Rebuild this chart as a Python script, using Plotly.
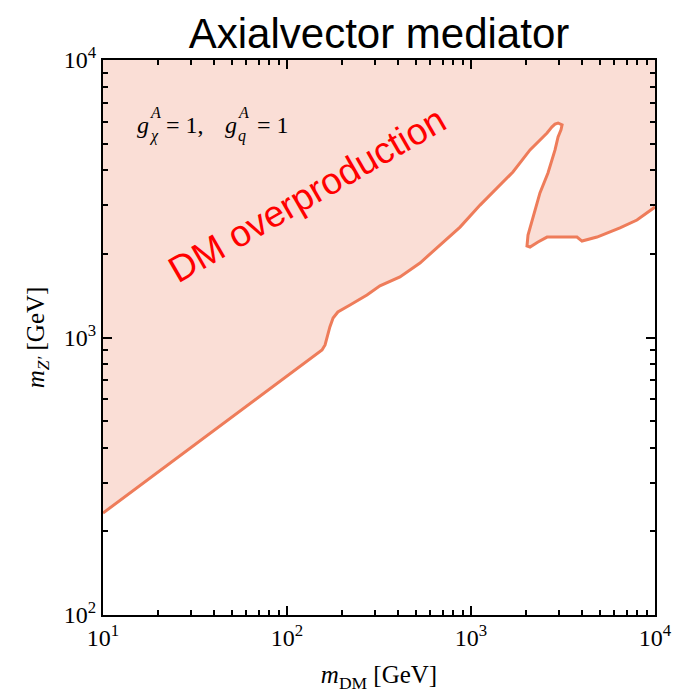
import plotly.graph_objects as go

# Relic-density boundary: m_Z' versus m_DM (GeV), traced left to right
m_dm = [10, 155, 161, 171, 178, 189, 220, 272, 320, 411, 528, 679, 872, 1120,
        1384, 1690, 2093, 2590, 2756, 2862, 2973, 3126, 3084, 2973, 2862, 2620,
        2370, 2173, 2041, 2015, 2093, 2313, 2590, 3767, 4010, 4840, 6452, 7980, 10000]
m_zp = [233, 902, 940, 1092, 1175, 1236, 1309, 1422, 1535, 1653, 1855, 2152, 2500, 3000,
        3461, 3947, 4743, 5458, 5741, 5878, 5929, 5834, 5600, 5284, 4743, 3917,
        3319, 2717, 2338, 2136, 2119, 2208, 2301, 2301, 2226, 2301, 2483, 2651, 2951]

x_range = [10, 10000]
y_range = [100, 10000]

major_vals = [10, 100, 1000, 10000]
x_tick_text = ["10<sup>1</sup>", "10<sup>2</sup>", "10<sup>3</sup>", "10<sup>4</sup>"]
y_major_vals = [100, 1000, 10000]
y_tick_text = ["10<sup>2</sup>", "10<sup>3</sup>", "10<sup>4</sup>"]

def minor_ticks(lo, hi):
    vals = []
    d = lo
    while d < hi:
        vals += [k * d for k in range(2, 10)]
        d *= 10
    return vals

fill_color = "rgb(250,222,214)"
line_color = "rgb(238,124,90)"

W, H = 673, 694
M_L, M_R, M_T, M_B = 103, 18, 60, 79
PW, PH = W - M_L - M_R, H - M_T - M_B

def px_to_paper(px, py):
    return (px - M_L) / PW, 1 - (py - M_T) / PH

fig = go.Figure()

# Shaded excluded region: above the boundary up to the top of the frame
poly_x = m_dm + [x_range[1], x_range[0]]
poly_y = m_zp + [y_range[1], y_range[1]]
fig.add_trace(go.Scatter(x=poly_x, y=poly_y, mode="lines", fill="toself",
                         fillcolor=fill_color, line=dict(width=0),
                         hoverinfo="skip", showlegend=False))
fig.add_trace(go.Scatter(x=m_dm, y=m_zp, mode="lines",
                         line=dict(color=line_color, width=3),
                         showlegend=False))

serif = "Liberation Serif, Times New Roman, serif"
sans = "Liberation Sans, Arial, sans-serif"

axis_common = dict(
    type="log", showgrid=False, zeroline=False, automargin=False,
    showline=True, linecolor="black", linewidth=2, mirror="allticks",
    ticks="inside", ticklen=9, tickwidth=2, tickcolor="black",
    tickmode="array",
    tickfont=dict(family=serif, size=24, color="black"),
)

fig.update_xaxes(
    **axis_common,
    range=[1, 4],
    tickvals=major_vals, ticktext=x_tick_text,
    minor=dict(tickmode="array", tickvals=minor_ticks(10, 10000),
               ticks="inside", ticklen=5, tickwidth=2, tickcolor="black"),
    title=dict(text="<i>m</i><sub>DM</sub> [GeV]",
               font=dict(family=serif, size=25, color="black"), standoff=16),
)
fig.update_yaxes(
    **axis_common,
    range=[2, 4],
    tickvals=y_major_vals, ticktext=y_tick_text,
    minor=dict(tickmode="array", tickvals=minor_ticks(100, 10000),
               ticks="inside", ticklen=5, tickwidth=2, tickcolor="black"),
    title=dict(text="<i>m</i><sub><i>Z′</i></sub> [GeV]",
               font=dict(family=serif, size=25, color="black"), standoff=12),
)

fig.add_annotation(text="DM overproduction", xref="paper", yref="paper",
                   x=0.371, y=0.757, xanchor="center", yanchor="middle",
                   textangle=-30, showarrow=False,
                   font=dict(family=sans, size=37, color="red"))

# Coupling label, g with stacked super/subscripts
coupling_parts = [
    ("<i>g</i>", 136, 125, 24),
    ("<i>A</i>", 149, 112, 16),
    ("<i>χ</i>", 148, 136, 16),
    ("= 1,", 165, 125, 24),
    ("<i>g</i>", 224, 125, 24),
    ("<i>A</i>", 237, 112, 16),
    ("<i>q</i>", 237, 136, 16),
    ("= 1", 256, 125, 24),
]
for txt, px, py, fs in coupling_parts:
    ax, ay = px_to_paper(px, py)
    fig.add_annotation(text=txt, xref="paper", yref="paper", x=ax, y=ay,
                       xanchor="left", yanchor="middle", showarrow=False,
                       borderpad=0, font=dict(family=serif, size=fs, color="black"))

fig.update_layout(
    width=W, height=H,
    margin=dict(l=M_L, r=M_R, t=M_T, b=M_B),
    paper_bgcolor="white", plot_bgcolor="white",
    title=dict(text="Axialvector mediator", x=(M_L + PW / 2) / W, xanchor="center",
               y=1 - 33 / H, yanchor="middle",
               font=dict(family=sans, size=42, color="black")),
)

fig.write_html("out.html")
